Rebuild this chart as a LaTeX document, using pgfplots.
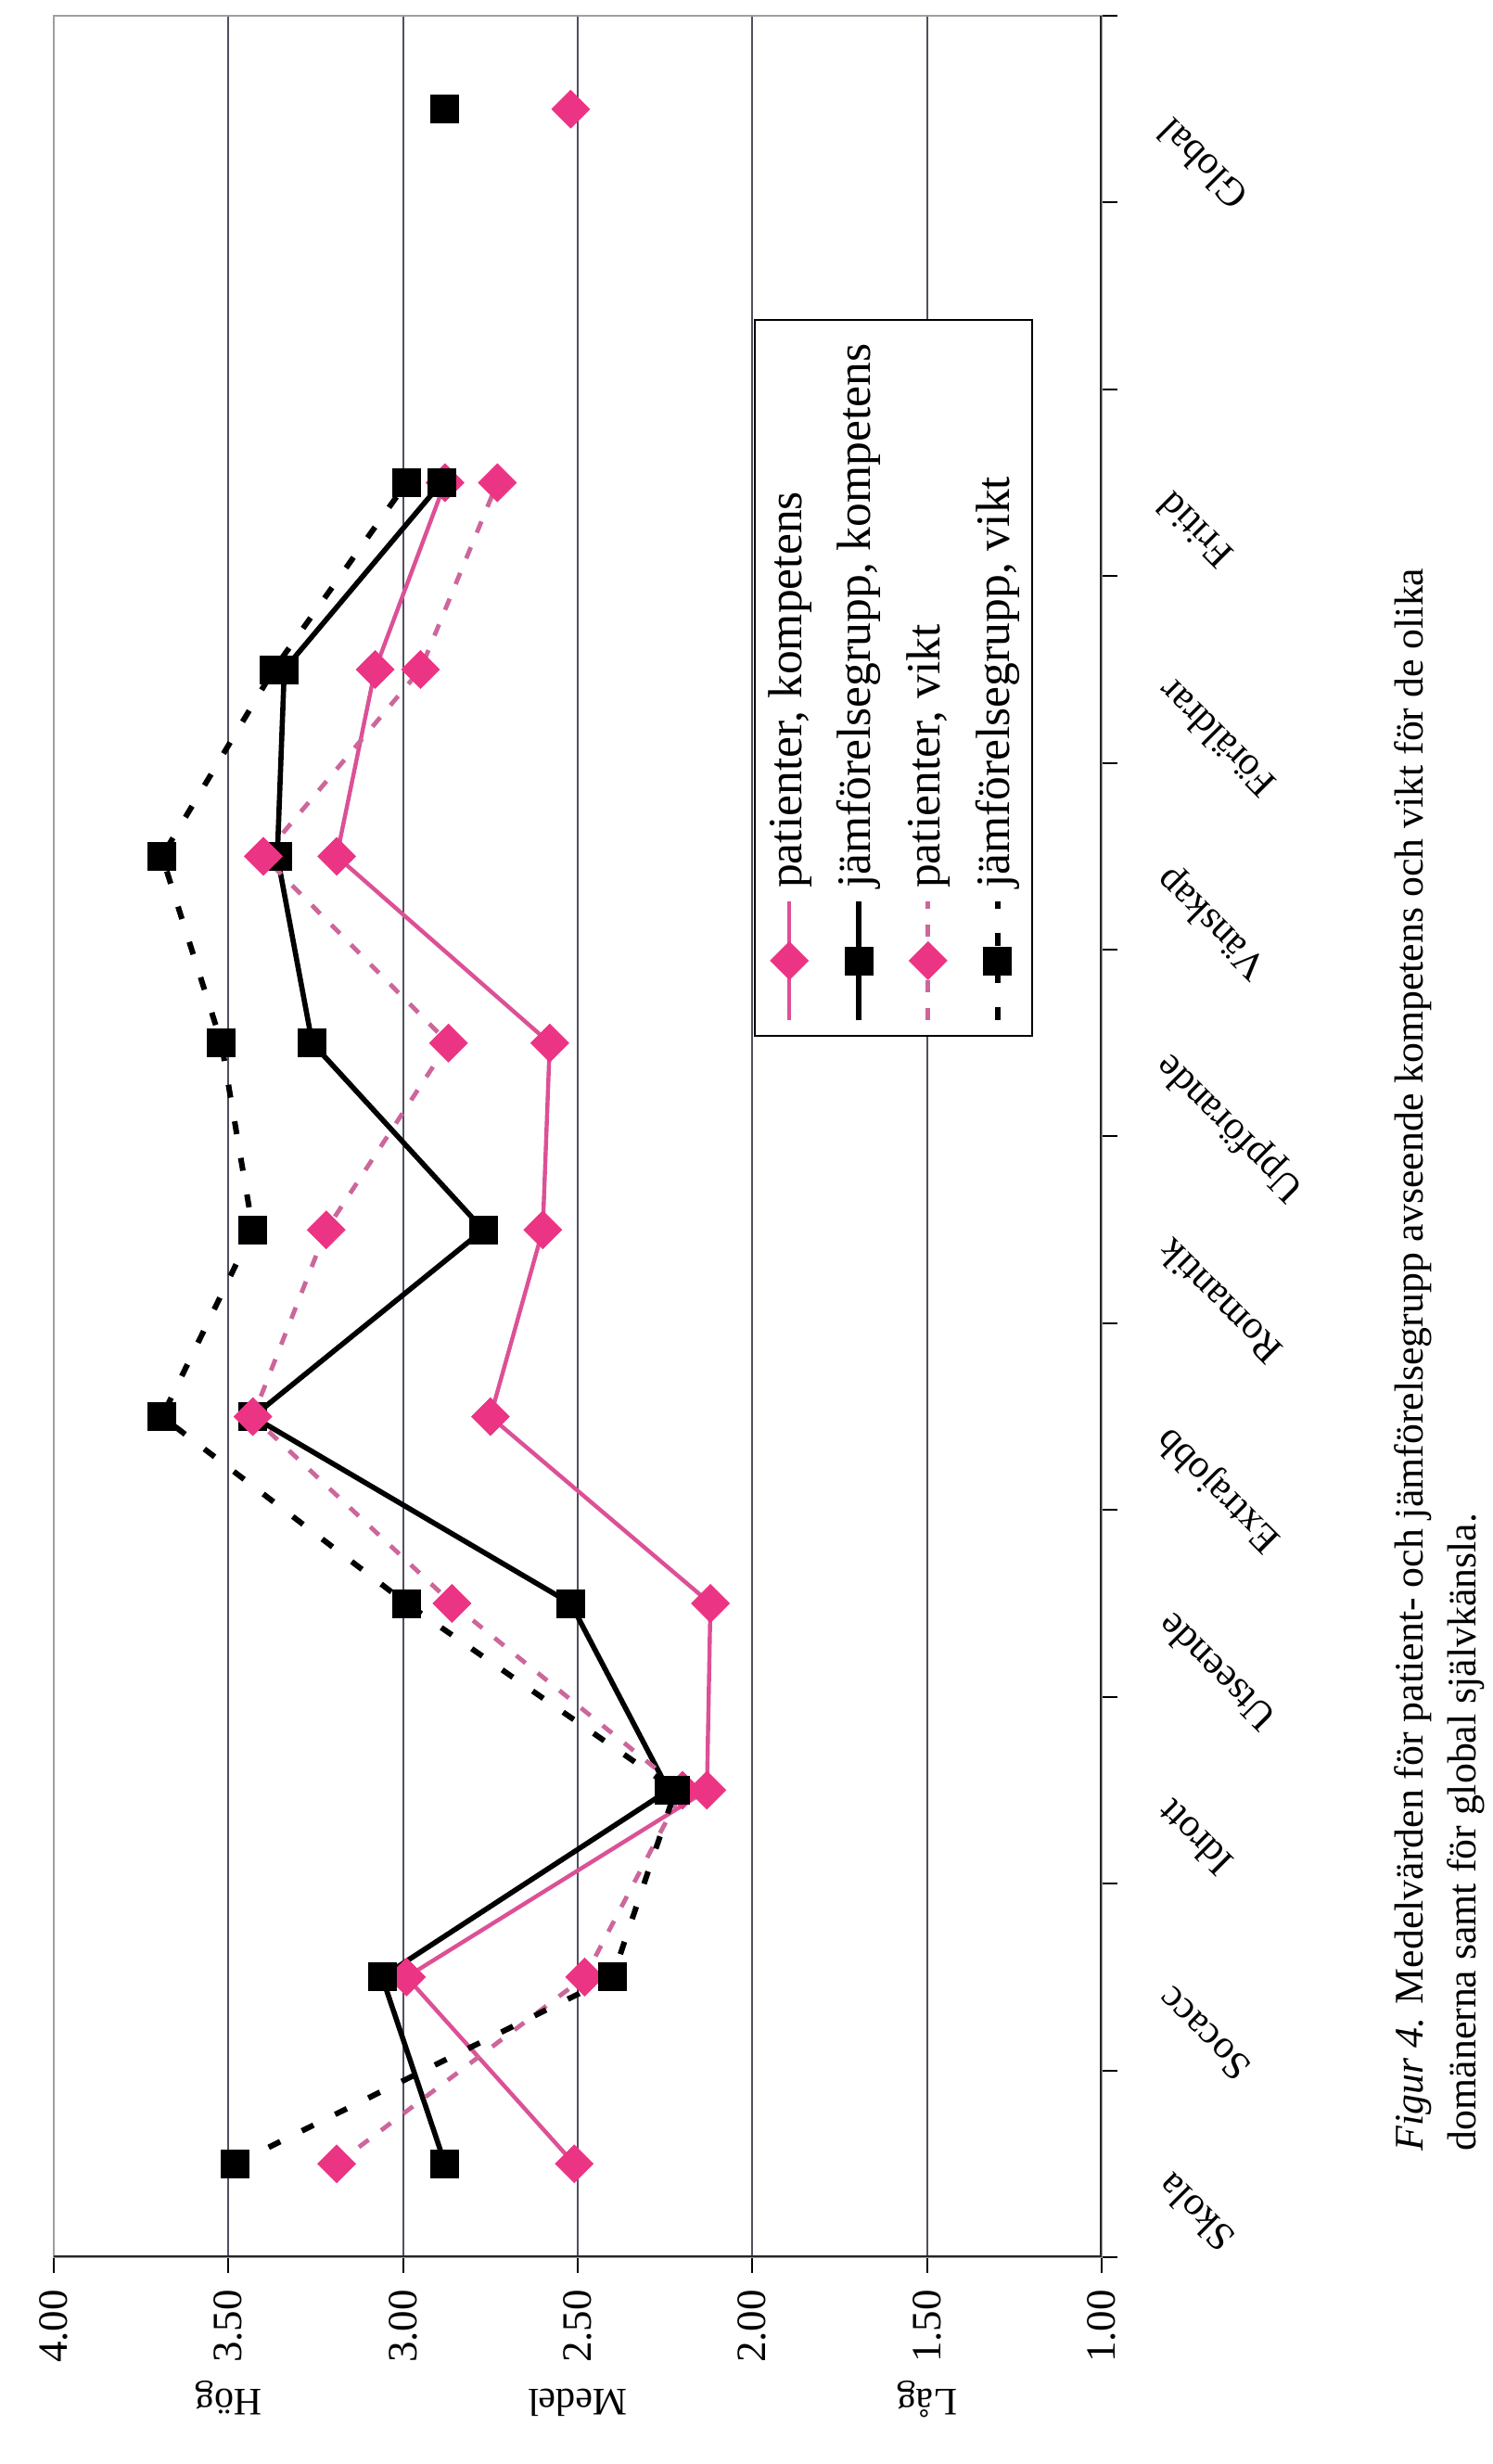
\documentclass[border=0pt]{standalone}
\usepackage{pgfplots}
\pgfplotsset{compat=1.18}
\usepackage{fontspec}
\setmainfont{Liberation Serif}
\definecolor{pinkline}{RGB}{220,80,150}
\definecolor{pinkmark}{RGB}{236,52,132}
\definecolor{pinkdash}{RGB}{204,102,155}
\definecolor{gridc}{RGB}{80,80,95}
\begin{document}
\begin{tikzpicture}[rotate=90, transform shape]
\begin{axis}[
  at={(55.75pt,105.25pt)}, anchor=south west,
  scale only axis, width=604.25pt, height=282.5pt,
  xmin=-0.5, xmax=11.5, ymin=1, ymax=4,
  xtick={-0.5,0.5,1.5,2.5,3.5,4.5,5.5,6.5,7.5,8.5,9.5,10.5,11.5},
  x tick label as interval,
  xticklabels={Skola,Socacc,Idrott,Utseende,Extrajobb,Romantik,Uppförande,Vänskap,Föräldrar,Fritid,{},Global},
  ytick={1,1.5,2,2.5,3,3.5,4},
  yticklabels={1.00,1.50,2.00,2.50,3.00,3.50,4.00},
  tick pos=left, tick align=outside, major tick length=4.25pt,
  ymajorgrids, major grid style={gridc, line width=0.45pt},
  axis line style={gray!75, line width=0.5pt},
  tick style={black, line width=0.5pt},
  xticklabel style={font=\fontsize{10.75}{12}\selectfont, xshift=-2pt, yshift=-10pt, rotate=45, anchor=east},
  yticklabel style={font=\fontsize{11.25}{13}\selectfont, anchor=east, xshift=-1pt},
  extra y ticks={1.5,2.5,3.5},
  extra y tick labels={Låg,Medel,Hög},
  extra y tick style={major tick length=0pt, grid=none,
     yticklabel style={font=\fontsize{10.5}{12}\selectfont, xshift=-34.5pt, rotate=90, anchor=base}},
  unbounded coords=jump,
  legend style={at={(rel axis cs:0.5445,0.332)}, anchor=north west,
     draw=black, line width=0.5pt, fill=white,
     font=\fontsize{12.9}{14.5}\selectfont,
     inner xsep=3.5pt, inner ysep=0pt, row sep=0pt,
     nodes={text height=9.3pt, text depth=2.9pt, inner ysep=3.25pt, inner xsep=2.75pt}},
  legend cell align=left,
  legend image code/.code={\draw[mark repeat=2,mark phase=2,#1] plot coordinates {(0pt,0pt) (16pt,0pt) (32pt,0pt)};},
]
\addplot[pinkline, line width=1.1pt, mark=square*, mark size=3.6pt,
  mark options={rotate=45, fill=pinkmark, draw=pinkmark, solid, line width=0.2pt}]
  coordinates {(0,2.51) (1,2.99) (2,2.13) (3,2.12) (4,2.75) (5,2.60) (6,2.58) (7,3.19) (8,3.08) (9,2.88) (10,nan) (11,2.52)};
\addlegendentry{patienter, kompetens}
\addplot[black, line width=1.4pt, mark=square*, mark size=3.75pt,
  mark options={fill=black, solid, line width=0.2pt}]
  coordinates {(0,2.88) (1,3.06) (2,2.24) (3,2.52) (4,3.43) (5,2.77) (6,3.26) (7,3.36) (8,3.34) (9,2.89) (10,nan) (11,2.88)};
\addlegendentry{jämförelsegrupp, kompetens}
\addplot[pinkdash, line width=1.2pt, dash pattern=on 3.25pt off 4.25pt, mark=square*, mark size=3.6pt,
  mark options={rotate=45, fill=pinkmark, draw=pinkmark, solid, line width=0.2pt}]
  coordinates {(0,3.19) (1,2.48) (2,2.20) (3,2.86) (4,3.43) (5,3.22) (6,2.87) (7,3.40) (8,2.95) (9,2.73)};
\addlegendentry{patienter, vikt}
\addplot[black, line width=1.5pt, dash pattern=on 3.5pt off 6.5pt, mark=square*, mark size=3.75pt,
  mark options={fill=black, solid, line width=0.2pt}]
  coordinates {(0,3.48) (1,2.40) (2,2.22) (3,2.99) (4,3.69) (5,3.43) (6,3.52) (7,3.69) (8,3.37) (9,2.99)};
\addlegendentry{jämförelsegrupp, vikt}
\draw[black!85, line width=0.8pt] (rel axis cs:0,1) -- (rel axis cs:0,0) -- (rel axis cs:1,0);
\end{axis}
\node[anchor=west, inner sep=0pt, font=\fontsize{10.95}{13}\selectfont] at (84.25pt,21.25pt)
  {\textit{Figur 4.} Medelvärden för patient- och jämförelsegrupp avseende kompetens och vikt för de olika};
\node[anchor=west, inner sep=0pt, font=\fontsize{10.95}{13}\selectfont] at (84.25pt,7pt)
  {domänerna samt för global självkänsla.};
\pgfresetboundingbox
\useasboundingbox (0,0) rectangle (664.25pt,402.25pt);
\end{tikzpicture}
\end{document}
